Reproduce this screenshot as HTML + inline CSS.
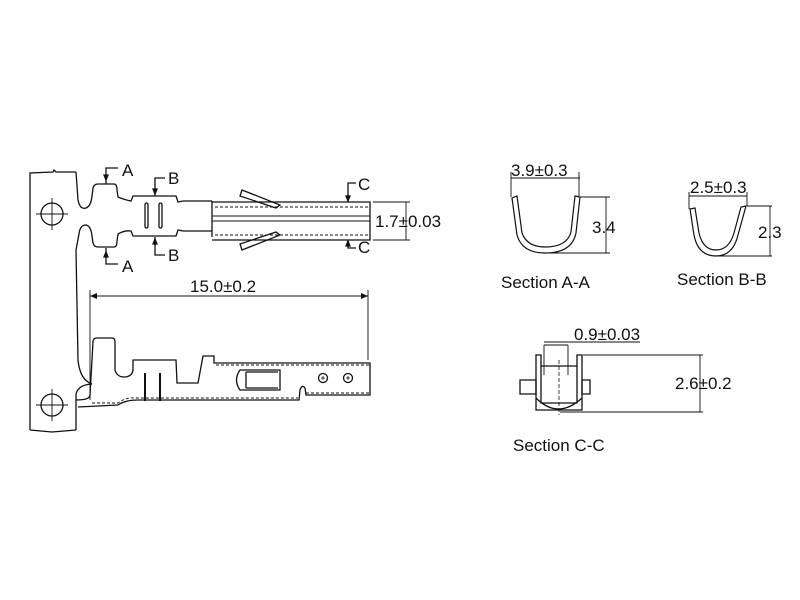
<!DOCTYPE html>
<html><head><meta charset="utf-8"><style>
html,body{margin:0;padding:0;background:#fff;width:800px;height:600px;overflow:hidden}
svg{display:block}
text{font-family:"Liberation Sans","DejaVu Sans",sans-serif;fill:#111}
</style></head><body>
<svg width="800" height="600" viewBox="0 0 800 600" xmlns="http://www.w3.org/2000/svg">
<defs>
<marker id="ar" markerWidth="8" markerHeight="8" refX="7" refY="3" orient="auto" markerUnits="userSpaceOnUse"><path d="M0,0 L7,3 L0,6 z" fill="#111"/></marker>
</defs>
<g fill="none" stroke="#111" stroke-width="1.3">
<path d="M30,430 L30,173 L53,172 L54,170 L56,172 L76,172"/>
<path d="M76,172 L78,200 Q80,210 86,208 Q91,206 92,196 L93,188 Q94,184 98,184 L114,184 Q117,184 117,190 L118,197 Q125,200 131,201 L133,196 L176,196 L178,202 L183,201 L212,201"/>
<path d="M76,430 L76,395 Q77,385 92,384 Q80,380 78,360 L76,250 L79,234 Q80,225 86,225 Q91,226 92,236 L93,243 Q94,247 98,247 L114,247 Q117,247 117,241 L118,234 Q125,230 131,231 L133,236 L176,236 L178,230 L183,231 L212,231"/>
<path d="M30,430 L52,432 L76,430"/>
<circle cx="52" cy="214" r="11"/><circle cx="52" cy="405" r="11"/>
<path d="M36,214 H68 M52,198 V230 M36,405 H68 M52,389 V421" stroke-width="0.9"/>
<rect x="145" y="203" width="3" height="25" rx="1.5"/><rect x="159" y="203" width="3" height="25" rx="1.5"/>
<path d="M212,201 L212,237 M212,202 L370,202 L370,240 L212,240"/>
<path d="M212,216 L370,216 M212,221 L370,221" stroke-width="1"/>
<path d="M215,207 L370,207 M215,235 L370,235" stroke-dasharray="3,2" stroke-width="0.9"/>
<path d="M242,190 L280,205 L276,208 L240,196 Z"/>
<path d="M242,250 L280,235 L276,232 L240,244 Z"/>
<path d="M106,184 V168 H118" /><path d="M106,180 l-2,-5 h4z" fill="#111"/>
<path d="M106,248 V264 H118"/><path d="M106,252 l-2,5 h4z" fill="#111"/>
<path d="M155,196 V178 H165"/><path d="M155,194 l-2,-5 h4z" fill="#111"/>
<path d="M155,237 V255 H165"/><path d="M155,239 l-2,5 h4z" fill="#111"/>
<path d="M348,202 V183 H356"/><path d="M348,201 l-2,-5 h4z" fill="#111"/>
<path d="M348,240 V248 H356"/><path d="M348,241 l-2,5 h4z" fill="#111"/>
<path d="M373,202 H410 M373,240 H410 M406,202 V240" stroke-width="0.9"/>
<path d="M90,296 H368" stroke-width="0.9" marker-end="url(#ar)"/>
<path d="M368,296 H90" stroke-width="0.9" marker-end="url(#ar)"/>
<path d="M90,290 V400 M368,290 V360" stroke-width="0.9"/>
<path d="M76,400 Q90,400 90,395 L93,342 Q93,338 97,338 L112,338 Q115,338 115,342 L115,370 Q117,377 124,377 Q132,377 133,370 L133,360 L176,360 L177,383 L198,383 L203,356 L214,356 L214,363 L370,363 L370,395 L306,395 L305,388 Q302,384 300,390 L299,400 L138,400 Q125,400 118,405 L78,407"/>
<path d="M92,403 L118,403 Q126,397 135,398 L298,398 M216,365 L370,365 M306,393 L370,393" stroke-dasharray="3,2" stroke-width="0.9"/>
<path d="M145,373 V401 M160,373 V401" stroke-width="2"/>
<path d="M240,370 L280,370 L280,390 L240,390 Q233,380 240,370 Z M246,372 V388 M246,372 H278 M246,388 H278"/>
<circle cx="323" cy="378" r="4.5"/><circle cx="348" cy="378" r="4.5"/>
<path d="M321,378 h4 M323,376 v4 M346,378 h4 M348,376 v4" stroke-width="0.8"/>
<path d="M512,198 L517,235 Q522,253 545,253 Q572,253 576,233 L580,197 L575,196 L571,232 Q567,247 545,247 Q527,247 522,233 L517,196 Z" stroke-width="1.2"/>
<path d="M511,178 H580 M511,172 V197 M579,172 V196 M580,197 H610 M545,253 H610 M606,197 V253" stroke-width="0.9"/>
<path d="M690,209 L694,235 Q698,256 716,256 Q733,256 738,235 L746,206 L741,207 L734,233 Q729,250 716,250 Q703,250 699,233 L695,208 Z" stroke-width="1.2"/>
<path d="M689,196 H747 M689,192 V209 M747,192 V206 M747,206 H772 M716,256 H772 M770,206 V256" stroke-width="0.9"/>
<path d="M536,355 H541 V366 H577 V355 H582 V410 H536 Z"/>
<path d="M541,366 V403 H577 V366 M536,398 Q558,420 582,398"/>
<path d="M520,380 H536 V394 H520 Z M582,380 H590 V394 H582 Z"/>
<path d="M559,360 V415" stroke-dasharray="4,2" stroke-width="0.8"/>
<path d="M544,345 V375 M568,345 V375 M544,342 H640 M544,345 H568" stroke-width="0.9"/>
<path d="M583,355 H703 M560,412 H703 M700,355 V412" stroke-width="0.9"/>
</g>
<g font-size="17">
<text x="122" y="176">A</text><text x="122" y="272">A</text>
<text x="168" y="184">B</text><text x="168" y="261">B</text>
<text x="358" y="190">C</text><text x="358" y="253">C</text>
<text x="375" y="227">1.7±0.03</text>
<text x="190" y="292">15.0±0.2</text>
<text x="511" y="176">3.9±0.3</text>
<text x="592" y="233">3.4</text>
<text x="501" y="288">Section A-A</text>
<text x="690" y="193">2.5±0.3</text>
<text x="758" y="238">2.3</text>
<text x="677" y="285">Section B-B</text>
<text x="574" y="340">0.9±0.03</text>
<text x="675" y="389">2.6±0.2</text>
<text x="513" y="451">Section C-C</text>
</g>
</svg>
</body></html>
